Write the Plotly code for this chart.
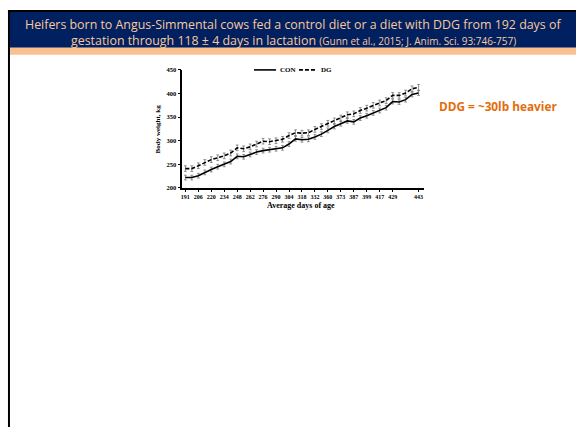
import plotly.graph_objects as go

W, H = 576, 430

# ---- data ----
days_labels = ["191", "206", "220", "234", "248", "262", "276", "290", "304",
               "318", "332", "360", "373", "387", "399", "417", "429", "443"]
label_index = [0, 2, 4, 6, 8, 10, 12, 14, 16, 18, 20, 22, 24, 26, 28, 30, 32, 36]

con = [222, 222, 226, 233, 239, 245, 250, 256, 267, 266, 271, 276, 279, 281,
       283, 285, 293, 304, 302, 303, 308, 314, 322, 330, 336, 342, 340, 348,
       353, 359, 364, 370, 383, 382, 387, 398, 401]
dg = [241, 241, 247, 254, 260, 264, 268, 274, 285, 283, 287, 293, 299, 298,
      300, 303, 311, 317, 316, 317, 324, 330, 337, 342, 348, 355, 357, 364,
      369, 375, 380, 385, 396, 396, 401, 410, 413]
con_se = [5] * len(con)
dg_se = [6] * len(dg)
idx = list(range(len(con)))


def px(x):
    return x / W


def py(y):
    return 1 - y / H


DASH = "4px,2px"
fig = go.Figure()
fig.add_trace(go.Scatter(
    x=idx, y=con, mode="lines", name="CON",
    line=dict(color="black", width=1.6),
    error_y=dict(type="data", array=con_se, color="#666666", thickness=0.7, width=1.4),
))
fig.add_trace(go.Scatter(
    x=idx, y=dg, mode="lines", name="DG",
    line=dict(color="black", width=1.6, dash=DASH),
    error_y=dict(type="data", array=dg_se, color="#666666", thickness=0.7, width=1.4),
))

serif = "Liberation Serif"
x0p, x1p = 181, 423
step = (418 - 184) / (len(con) - 1)
fig.update_layout(
    width=W, height=H, margin=dict(l=0, r=0, t=0, b=0),
    paper_bgcolor="white", plot_bgcolor="white", showlegend=False,
    xaxis=dict(domain=[px(x0p), px(x1p)],
               range=[-3 / step, len(con) - 1 + 5 / step],
               tickvals=label_index, ticktext=days_labels,
               tickfont=dict(family=serif, size=6, color="black", weight="bold"),
               showline=True, linecolor="black", linewidth=1.5,
               ticks="outside", ticklen=2, tickcolor="black",
               showgrid=False, zeroline=False),
    yaxis=dict(domain=[py(187), py(67)], range=[200, 450],
               tickvals=[200, 250, 300, 350, 400, 450],
               tickfont=dict(family=serif, size=6.5, color="black", weight="bold"),
               showline=True, linecolor="black", linewidth=1.5,
               ticks="outside", ticklen=3, tickcolor="black",
               showgrid=False, zeroline=False),
)

shapes = [
    # title bar
    dict(type="rect", xref="paper", yref="paper", x0=px(8), x1=1, y0=py(44.5), y1=py(8),
         fillcolor="#002060", line=dict(width=0), layer="below"),
    dict(type="rect", xref="paper", yref="paper", x0=px(8), x1=1, y0=py(51.5), y1=py(44.5),
         fillcolor="#FAC090", line=dict(width=0), layer="below"),
    # black border
    dict(type="line", xref="paper", yref="paper", x0=px(6), x1=1, y0=py(7), y1=py(7),
         line=dict(color="black", width=2)),
    dict(type="line", xref="paper", yref="paper", x0=px(7), x1=px(7), y0=py(6), y1=0,
         line=dict(color="black", width=2)),
    # legend samples
    dict(type="line", xref="paper", yref="paper", x0=px(253), x1=px(275), y0=py(67), y1=py(67),
         line=dict(color="black", width=1.6)),
    dict(type="line", xref="paper", yref="paper", x0=px(298), x1=px(316), y0=py(67), y1=py(67),
         line=dict(color="black", width=1.6, dash=DASH)),
]
fig.update_layout(shapes=shapes)

title_col = "#F9C89C"
ann = [
    dict(x=px(292.5), y=py(21), text="Heifers born to Angus-Simmental cows fed a control diet or a diet with DDG from 192 days of",
         font=dict(family="Open Sans", size=12.4, color=title_col)),
    dict(x=px(292.5), y=py(37.5),
         text="gestation through 118 ± 4 days in lactation <span style='font-size:10px'>(Gunn et al., 2015; J. Anim. Sci. 93:746-757)</span>",
         font=dict(family="Open Sans", size=12.4, color=title_col)),
    dict(x=px(277), y=py(67), text="CON", xanchor="left",
         font=dict(family=serif, size=7, color="black", weight="bold")),
    dict(x=px(318), y=py(67), text="DG", xanchor="left",
         font=dict(family=serif, size=7, color="black", weight="bold")),
    dict(x=px(156), y=py(127), text="Body weight, kg", textangle=-90,
         font=dict(family=serif, size=7, color="black", weight="bold")),
    dict(x=px(300), y=py(205), text="Average days of age",
         font=dict(family=serif, size=8, color="black", weight="bold")),
    dict(x=px(497.5), y=py(104), text="DDG = ~30lb heavier",
         font=dict(family="Open Sans", size=11.8, color="#E46C0A", weight="bold")),
]
for a in ann:
    a.update(xref="paper", yref="paper", showarrow=False)
    a.setdefault("xanchor", "center")
    a.setdefault("yanchor", "middle")
fig.update_layout(annotations=ann)

fig.write_html("out.html", config={"displayModeBar": False},
               post_script="document.body.style.margin='0';document.body.style.overflow='hidden';")
